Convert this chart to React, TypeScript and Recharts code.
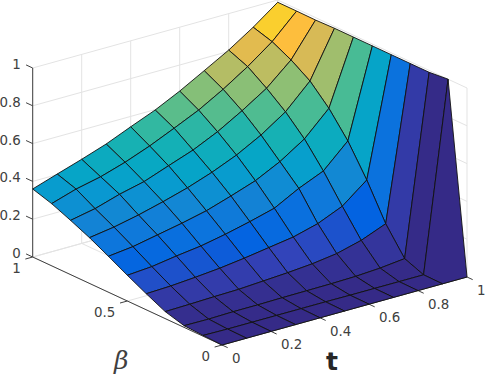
import React from "react";
import { ScatterChart, Scatter, XAxis, YAxis } from "recharts";

const betaValues = [0, 0.1, 0.2, 0.3, 0.4, 0.5, 0.6, 0.7, 0.8, 0.9, 1];
const tValues = [0, 0.1, 0.2, 0.3, 0.4, 0.5, 0.6, 0.7, 0.8, 0.9, 1];

const zBeta00 = [0, 0, 0, 0, 0, 0, 0, 0, 0, 0, 0];
const zBeta01 = [0.004, 0.002, 0.002, 0.002, 0.002, 0.002, 0.001, 0.001, 0.001, 0.001, 1];
const zBeta02 = [0.009, 0.008, 0.011, 0.011, 0.013, 0.014, 0.015, 0.018, 0.026, 0.04, 0.99];
const zBeta03 = [0.037, 0.04, 0.044, 0.047, 0.055, 0.063, 0.074, 0.092, 0.126, 0.178, 0.99];
const zBeta04 = [0.085, 0.09, 0.1, 0.112, 0.129, 0.149, 0.169, 0.204, 0.26, 0.363, 0.99];
const zBeta05 = [0.136, 0.146, 0.166, 0.183, 0.209, 0.24, 0.275, 0.344, 0.4, 0.523, 0.99];
const zBeta06 = [0.19, 0.205, 0.231, 0.257, 0.287, 0.329, 0.374, 0.439, 0.523, 0.649, 0.99];
const zBeta07 = [0.242, 0.262, 0.29, 0.324, 0.362, 0.408, 0.463, 0.533, 0.62, 0.747, 0.99];
const zBeta08 = [0.287, 0.313, 0.353, 0.384, 0.432, 0.479, 0.54, 0.615, 0.698, 0.812, 0.987];
const zBeta09 = [0.329, 0.37, 0.399, 0.44, 0.49, 0.548, 0.608, 0.682, 0.766, 0.862, 0.988];
const zBeta10 = [0.36, 0.403, 0.445, 0.49, 0.545, 0.598, 0.662, 0.734, 0.807, 0.892, 0.988];
const zRows = [zBeta00, zBeta01, zBeta02, zBeta03, zBeta04, zBeta05, zBeta06, zBeta07, zBeta08, zBeta09, zBeta10];

const zTicks = [0, 0.2, 0.4, 0.6, 0.8, 1];
const betaTicks = [0, 0.5, 1];
const tTicks = [0, 0.2, 0.4, 0.6, 0.8, 1];

// parula, every 4th entry of the 64 colour map
const parula = [
  [0.2081, 0.1663, 0.5292], [0.1959, 0.2645, 0.7279], [0.0117, 0.3875, 0.882], [0.0498, 0.4586, 0.8641],
  [0.0793, 0.52, 0.8312], [0.0343, 0.5966, 0.8199], [0.0228, 0.6535, 0.7768], [0.0843, 0.6928, 0.7062],
  [0.2178, 0.725, 0.6193], [0.3953, 0.7459, 0.5244], [0.5709, 0.7485, 0.4494], [0.7184, 0.7411, 0.3905],
  [0.8507, 0.7299, 0.336], [0.9938, 0.7455, 0.2403], [0.9789, 0.8271, 0.1633], [0.9598, 0.9218, 0.0948],
  [0.9763, 0.9831, 0.0538],
];

const colorFor = (z: number) => {
  const pos = Math.min(Math.max(z, 0), 1) * (parula.length - 1);
  const i = Math.min(Math.floor(pos), parula.length - 2);
  const f = pos - i;
  const c = parula[i].map((v, k) => Math.round((v + (parula[i + 1][k] - v) * f) * 255));
  return `rgb(${c[0]},${c[1]},${c[2]})`;
};

const WIDTH = 486;
const HEIGHT = 377;

// orthographic view of the unit box
const project = (b: number, t: number, z: number) => ({
  x: 222 + 245 * t - 189.3 * b,
  y: 345 - 68 * t - 88 * b - 189 * z,
});

const seg = (a: number[], c: number[]) => [project(a[0], a[1], a[2]), project(c[0], c[1], c[2])];

const gridLines: { x: number; y: number }[][] = [];
zTicks.forEach((z) => {
  gridLines.push(seg([1, 0, z], [1, 1, z]));
  gridLines.push(seg([1, 1, z], [0, 1, z]));
});
tTicks.forEach((t) => {
  gridLines.push(seg([1, t, 0], [1, t, 1]));
  gridLines.push(seg([0, t, 0], [1, t, 0]));
});
betaTicks.forEach((b) => {
  gridLines.push(seg([b, 1, 0], [b, 1, 1]));
  gridLines.push(seg([b, 0, 0], [b, 1, 0]));
});

const axisLines = [seg([1, 0, 0], [1, 0, 1]), seg([1, 0, 0], [0, 0, 0]), seg([0, 0, 0], [0, 1, 0])];
zTicks.forEach((z) => axisLines.push(seg([1, 0, z], [1.035, 0, z])));
betaTicks.forEach((b) => axisLines.push(seg([b, 0, 0], [b, -0.03, 0])));
tTicks.forEach((t) => axisLines.push(seg([0, t, 0], [-0.03, t, 0])));

const cells: { points: { x: number; y: number }[]; color: string; id: string }[] = [];
for (let i = betaValues.length - 2; i >= 0; i--) {
  for (let j = tValues.length - 2; j >= 0; j--) {
    cells.push({
      id: `${i}-${j}`,
      color: colorFor(zRows[i][j]),
      points: [
        project(betaValues[i], tValues[j], zRows[i][j]),
        project(betaValues[i + 1], tValues[j], zRows[i + 1][j]),
        project(betaValues[i + 1], tValues[j + 1], zRows[i + 1][j + 1]),
        project(betaValues[i], tValues[j + 1], zRows[i][j + 1]),
      ],
    });
  }
}

const labelStyle = { fontFamily: "DejaVu Sans", fontSize: 13.4, fill: "#404040" };

const tickLabels = [
  ...zTicks.map((z) => ({ ...project(1, 0, z), text: String(z), anchor: "end", dx: -12, dy: 1 })),
  ...betaTicks.map((b) => ({ ...project(b, 0, 0), text: String(b), anchor: "end", dx: -12, dy: 16 })),
  ...tTicks.map((t) => ({ ...project(0, t, 0), text: String(t), anchor: "start", dx: 10, dy: 18 })),
];

const hideDot = () => <g />;

const TickText = (props: any) => (
  <text
    x={props.cx + props.payload.dx}
    y={props.cy + props.payload.dy}
    textAnchor={props.payload.anchor}
    {...labelStyle}
  >
    {props.payload.text}
  </text>
);

const cellShape = (color: string) => (props: any) => (
  <polygon
    points={props.points.map((p: any) => `${p.x},${p.y}`).join(" ")}
    fill={color}
    stroke="#111"
    strokeWidth={0.9}
    strokeLinejoin="round"
  />
);

export default function App() {
  return (
    <div style={{ position: "absolute", left: 0, top: 0 }}>
      <ScatterChart width={WIDTH} height={HEIGHT} margin={{ top: 0, right: 0, bottom: 0, left: 0 }}>
        <XAxis type="number" dataKey="x" domain={[0, WIDTH]} hide />
        <YAxis type="number" dataKey="y" domain={[0, HEIGHT]} reversed hide />
        {gridLines.map((g, i) => (
          <Scatter key={`g${i}`} data={g} shape={hideDot} line={{ stroke: "#e3e3e3", strokeWidth: 1 }} isAnimationActive={false} />
        ))}
        {axisLines.map((g, i) => (
          <Scatter key={`a${i}`} data={g} shape={hideDot} line={{ stroke: "#404040", strokeWidth: 1 }} isAnimationActive={false} />
        ))}
        {cells.map((c) => (
          <Scatter key={c.id} data={c.points} shape={hideDot} line={cellShape(c.color)} isAnimationActive={false} />
        ))}
        <Scatter data={tickLabels} shape={TickText} isAnimationActive={false} />
      </ScatterChart>
      <div style={{ position: "absolute", left: 114, top: 347, fontFamily: "DejaVu Serif", fontStyle: "italic", fontSize: 25, color: "#404040", lineHeight: "28px" }}>β</div>
      <div style={{ position: "absolute", left: 326, top: 348, fontFamily: "DejaVu Sans", fontWeight: "bold", fontSize: 25, color: "#262626", lineHeight: "28px" }}>t</div>
    </div>
  );
}
